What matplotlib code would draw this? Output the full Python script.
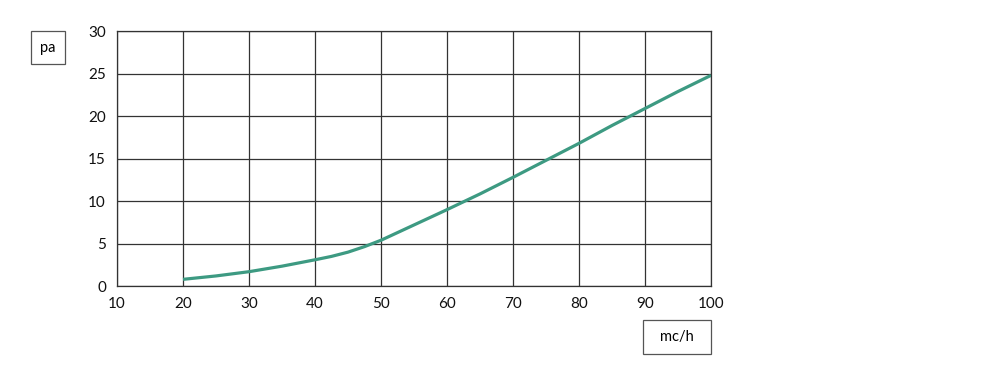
import matplotlib.pyplot as plt

plt.rcParams['font.family'] = ['Lato', 'DejaVu Sans']

# flow (mc/h) vs pressure drop (pa)
flow = [20, 25, 30, 35, 40, 42.5, 45, 47.5, 50, 52.5, 55, 60, 65, 70, 75, 80, 85, 90, 95, 100]
pressure = [0.8, 1.2, 1.7, 2.35, 3.1, 3.5, 4.0, 4.65, 5.4, 6.3, 7.2, 9.0, 10.85, 12.8, 14.8, 16.8, 18.9, 20.9, 22.9, 24.8]
x_ticks = [10, 20, 30, 40, 50, 60, 70, 80, 90, 100]
y_ticks = [0, 5, 10, 15, 20, 25, 30]

fig = plt.figure(figsize=(10, 3.8), dpi=100)
ax = fig.add_axes([0.117, 0.247, 0.594, 0.671])

ax.plot(flow, pressure, color='#3d9a82', linewidth=2.3, solid_capstyle='butt')

ax.set_xlim(10, 100)
ax.set_ylim(0, 30)
ax.set_xticks(x_ticks)
ax.set_yticks(y_ticks)
ax.grid(True, color='#333333', linewidth=0.9)
ax.set_axisbelow(True)
ax.tick_params(length=0, labelsize=11, colors='#111111', pad=8)
for s in ax.spines.values():
    s.set_color('#333333')
    s.set_linewidth(0.9)

# label boxes
fig.patches.append(plt.Rectangle((0.031, 1 - 64 / 380), 0.034, 33 / 380,
                                 transform=fig.transFigure, fill=False, ec='#555555', lw=0.9))
fig.text(0.048, 1 - 48 / 380, 'pa', ha='center', va='center', fontsize=10.5)
fig.patches.append(plt.Rectangle((0.643, 1 - 354 / 380), 0.068, 34 / 380,
                                 transform=fig.transFigure, fill=False, ec='#555555', lw=0.9))
fig.text(0.677, 1 - 337 / 380, 'mc/h', ha='center', va='center', fontsize=10.5)

fig.savefig('out.png', dpi=100)
